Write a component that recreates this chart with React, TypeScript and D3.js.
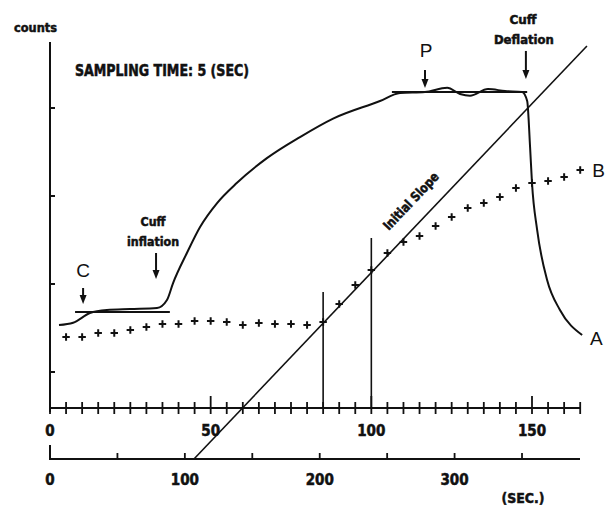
import * as d3 from 'd3'

const W = 607
const H = 508

// upper time axis (sec) and counts (arbitrary units, ticks every 1000)
const curveTime = [2.8, 7.2, 12.4, 17.7, 24.9, 33.3, 36.4, 38.3, 42.6, 46.7, 52.0, 58.2, 67.5, 77.8, 88.1, 102.7, 108.9, 116.7, 123.6, 127.6, 130.7, 136.3, 141.6, 146.9, 148.5, 149.4, 150.0, 151.6, 154.7, 158.7, 165.6]
const curveCounts = [1534, 1560, 1670, 1705, 1716, 1727, 1818, 2011, 2352, 2648, 2920, 3150, 3430, 3670, 3880, 4080, 4170, 4182, 4230, 4160, 4140, 4215, 4193, 4182, 4080, 3557, 3148, 2614, 2045, 1705, 1420]

// sampled points B, every 5 sec
const sampleTime = [5, 10, 15, 20, 25, 30, 35, 40, 45, 50, 55, 60, 65, 70, 75, 80, 85, 90, 95, 100, 105, 110, 115, 120, 125, 130, 135, 140, 145, 150, 155, 160, 165]
const sampleCounts = [1398, 1398, 1443, 1443, 1477, 1511, 1545, 1545, 1580, 1580, 1568, 1534, 1557, 1545, 1545, 1534, 1568, 1773, 1989, 2159, 2352, 2477, 2545, 2659, 2761, 2864, 2920, 2989, 3091, 3148, 3170, 3216, 3295]

// reference levels C and P
const levelC = { from: 7.8, to: 37.3, counts: 1682 }
const levelP = { from: 106.4, to: 148.5, counts: 4182 }

// initial slope line and its fitting window
const slopeTime = [44.8, 167.1]
const slopeCounts = [11, 4705]
const windowTime = [85, 100]
const windowTop = [1909, 2523]

const topTicks = d3.range(0, 166, 5)
const topLabels = [0, 50, 100, 150]
const bottomTicks = [50, 100, 150, 200, 250, 300, 350]
const bottomLabels = [0, 100, 200, 300]
const yTicks = [1000, 2000, 3000, 4000]

// arrows: time, tip counts, length in px
const arrows = [
  { id: 'C', t: 10.3, counts: 1773, len: 16 },
  { id: 'infl', t: 33.0, counts: 2057, len: 26 },
  { id: 'P', t: 116.7, counts: 4227, len: 18 },
  { id: 'defl', t: 148.1, counts: 4330, len: 28 },
]

const narrow = "'Liberation Sans Narrow','DejaVu Sans Condensed','Arial Narrow',sans-serif"
const plain = "'Liberation Sans',Arial,Helvetica,sans-serif"
const ink = '#111'

// heavy condensed lettering, like the original typeset labels
const heavy = { fontFamily: narrow, fontWeight: 'bold' as const, fill: ink, stroke: ink, strokeWidth: 0.5 }

export default function App() {
  const x = d3.scaleLinear().domain([0, 165]).range([50, 580.2])
  const xb = d3.scaleLinear().domain([0, 393]).range([50, 580])
  const y = d3.scaleLinear().domain([591, 4750]).range([408, 42])
  const axisY = y(591)
  const bottomY = 459

  const curve = d3.line<number>()
    .x(i => x(curveTime[i]))
    .y(i => y(curveCounts[i]))
    .curve(d3.curveMonotoneX)
  const curvePath = curve(d3.range(curveTime.length)) || ''

  const plus = d3.symbol(d3.symbolPlus, 20)() || ''

  // slope line in pixels, for the rotated label
  const sx0 = x(slopeTime[0]), sy0 = y(slopeCounts[0])
  const sx1 = x(slopeTime[1]), sy1 = y(slopeCounts[1])
  const ang = Math.atan2(sy1 - sy0, sx1 - sx0) * 180 / Math.PI
  const f = 0.59
  const ux = sy1 - sy0, uy = -(sx1 - sx0)
  const un = Math.hypot(ux, uy)
  const lx = sx0 + (sx1 - sx0) * f + (ux / un) * 16
  const ly = sy0 + (sy1 - sy0) * f + (uy / un) * 16

  const arrowTip = (id: string) => {
    const a = arrows.find(d => d.id === id)!
    return { ax: x(a.t), ay: y(a.counts), len: a.len }
  }
  const aC = arrowTip('C')
  const aI = arrowTip('infl')
  const aP = arrowTip('P')
  const aD = arrowTip('defl')

  return (
    <svg width={W} height={H} style={{ position: 'absolute', left: 0, top: 0, background: '#fff' }}>
      {/* y axis */}
      <line x1={x(0)} x2={x(0)} y1={y(4750)} y2={axisY + 4} stroke={ink} strokeWidth={2} />
      {yTicks.map(t => (
        <line key={t} x1={x(0)} x2={x(0) + 5} y1={y(t)} y2={y(t)} stroke={ink} strokeWidth={2} />
      ))}
      <text x={x(0) - 36} y={y(4750) - 10} {...heavy} fontSize={13}
        textLength={43} lengthAdjust="spacingAndGlyphs">counts</text>

      {/* upper time axis */}
      <line x1={x(0)} x2={x(165)} y1={axisY} y2={axisY} stroke={ink} strokeWidth={2} />
      {topTicks.map(t => {
        const major = t % 50 === 0 && t > 0
        return (
          <line key={t} x1={x(t)} x2={x(t)} y1={axisY - (major ? 12 : 6)} y2={axisY + 6}
            stroke={ink} strokeWidth={1.8} />
        )
      })}
      {topLabels.map(t => (
        <text key={t} x={x(t)} y={axisY + 28} textAnchor="middle" {...heavy} fontSize={15}>{t}</text>
      ))}

      {/* lower time axis */}
      <line x1={xb(0)} x2={xb(393)} y1={bottomY} y2={bottomY} stroke={ink} strokeWidth={2} />
      <line x1={xb(0)} x2={xb(0)} y1={bottomY - 14} y2={bottomY + 1} stroke={ink} strokeWidth={2} />
      {bottomTicks.map(t => (
        <line key={t} x1={xb(t)} x2={xb(t)} y1={bottomY - 6} y2={bottomY} stroke={ink} strokeWidth={1.8} />
      ))}
      {bottomLabels.map(t => (
        <text key={t} x={xb(t)} y={bottomY + 26} textAnchor="middle" {...heavy} fontSize={15}>{t}</text>
      ))}
      <text x={523} y={bottomY + 44} textAnchor="middle" {...heavy}
        fontSize={14} textLength={43} lengthAdjust="spacingAndGlyphs">(SEC.)</text>

      <text x={75} y={76} {...heavy} fontSize={15}
        textLength={174} lengthAdjust="spacingAndGlyphs">SAMPLING TIME: 5 (SEC)</text>

      {/* initial slope window */}
      {windowTime.map((t, i) => (
        <line key={t} x1={x(t)} x2={x(t)} y1={y(windowTop[i])} y2={axisY} stroke={ink} strokeWidth={1.6} />
      ))}

      {/* initial slope line */}
      <line x1={sx0} y1={sy0} x2={sx1} y2={sy1} stroke={ink} strokeWidth={1.6} />
      <text transform={`translate(${lx},${ly}) rotate(${ang})`} textAnchor="middle"
        {...heavy} fontSize={13} textLength={74}
        lengthAdjust="spacingAndGlyphs">Initial Slope</text>

      {/* sampled points B */}
      {sampleTime.map((t, i) => (
        <path key={t} d={plus} transform={`translate(${x(t)},${y(sampleCounts[i])})`}
          fill="none" stroke={ink} strokeWidth={2} />
      ))}
      <text x={x(165) + 12} y={y(3295) + 7} fontFamily={plain} fontSize={19} fill={ink}>B</text>

      {/* level lines C and P */}
      <line x1={x(levelC.from)} x2={x(levelC.to)} y1={y(levelC.counts)} y2={y(levelC.counts)}
        stroke={ink} strokeWidth={2.2} />
      <line x1={x(levelP.from)} x2={x(levelP.to)} y1={y(levelP.counts)} y2={y(levelP.counts)}
        stroke={ink} strokeWidth={2.2} />

      {/* count curve A */}
      <path d={curvePath} fill="none" stroke={ink} strokeWidth={2} />
      <text x={590} y={y(1420) + 10} fontFamily={plain} fontSize={19} fill={ink}>A</text>

      {/* arrows */}
      {[aC, aI, aP, aD].map((a, i) => (
        <g key={i}>
          <line x1={a.ax} x2={a.ax} y1={a.ay - a.len} y2={a.ay - 7} stroke={ink} strokeWidth={2} />
          <path d={`M${a.ax - 3.5},${a.ay - 9}L${a.ax + 3.5},${a.ay - 9}L${a.ax},${a.ay}Z`} fill={ink} />
        </g>
      ))}

      {/* annotation texts */}
      <text x={aC.ax} y={aC.ay - 27} textAnchor="middle" fontFamily={plain} fontSize={19} fill={ink}>C</text>
      <text x={aI.ax - 3} y={aI.ay - 53} textAnchor="middle" {...heavy}
        fontSize={13} textLength={25} lengthAdjust="spacingAndGlyphs">Cuff</text>
      <text x={aI.ax - 3} y={aI.ay - 33} textAnchor="middle" {...heavy}
        fontSize={13} textLength={52} lengthAdjust="spacingAndGlyphs">inflation</text>
      <text x={aP.ax + 1} y={aP.ay - 31} textAnchor="middle" fontFamily={plain} fontSize={19} fill={ink}>P</text>
      <text x={aD.ax - 3} y={aD.ay - 55} textAnchor="middle" {...heavy}
        fontSize={13} textLength={27} lengthAdjust="spacingAndGlyphs">Cuff</text>
      <text x={aD.ax - 2} y={aD.ay - 35} textAnchor="middle" {...heavy}
        fontSize={13} textLength={60} lengthAdjust="spacingAndGlyphs">Deflation</text>
    </svg>
  )
}
